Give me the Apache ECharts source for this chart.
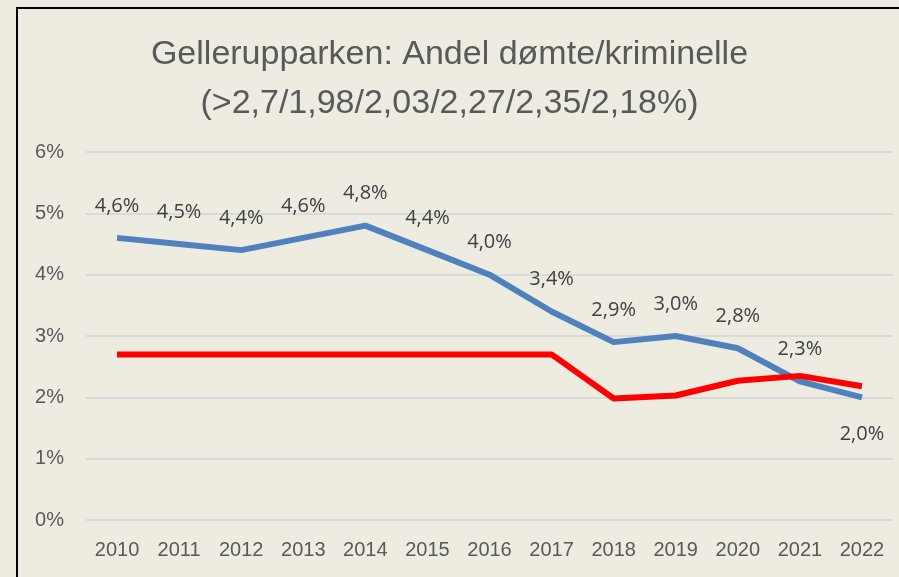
<!DOCTYPE html>
<html><head><meta charset="utf-8">
<script src="https://cdn.jsdelivr.net/npm/echarts@6/dist/echarts.min.js"></script>
<style>html,body{margin:0;padding:0;background:#EEEBE1;}#c{width:899px;height:577px;}</style>
</head><body><div id="c"></div>
<script>
const years = ['2010','2011','2012','2013','2014','2015','2016','2017','2018','2019','2020','2021','2022'];
const gellerup = [4.6,4.5,4.4,4.6,4.8,4.4,4.0,3.4,2.9,3.0,2.8,2.26,2.0];
const threshold = [2.7,2.7,2.7,2.7,2.7,2.7,2.7,2.7,1.98,2.03,2.27,2.35,2.18];
const yTicks = [0,1,2,3,4,5,6];
const titleLines = ['Gellerupparken: Andel dømte/kriminelle','(>2,7/1,98/2,03/2,27/2,35/2,18%)'];

const chart = echarts.init(document.getElementById('c'));
const fmt = v => v.toFixed(1).replace('.', ',') + '%';
chart.setOption({
  backgroundColor: '#EEEBE1',
  animation: false,
  title: {
    text: titleLines.join('\n'),
    left: 'center', top: 25,
    textStyle: {fontFamily: 'Liberation Sans Narrow, Liberation Sans', fontSize: 34, fontWeight: 'normal', color: '#595959', lineHeight: 49}
  },
  graphic: [{type: 'rect', shape: {x: 17, y: 8, width: 900, height: 600}, style: {fill: 'none', stroke: '#000', lineWidth: 2}, silent: true, z: 100}],
  grid: {left: 86, right: 6, top: 152, bottom: 57},
  xAxis: {
    type: 'category', data: years, boundaryGap: true,
    axisLine: {show: false}, axisTick: {show: false},
    axisLabel: {fontFamily: 'Liberation Sans Narrow, Liberation Sans', fontSize: 20, color: '#595959', margin: 20}
  },
  yAxis: {
    type: 'value', min: yTicks[0], max: yTicks[yTicks.length-1], interval: 1,
    axisLine: {show: false}, axisTick: {show: false},
    axisLabel: {formatter: '{value}%', fontFamily: 'Liberation Sans Narrow, Liberation Sans', fontSize: 20, color: '#595959', margin: 22},
    splitLine: {lineStyle: {color: '#D9D9D9', width: 2}}
  },
  series: [
    {
      name: 'Gellerupparken', type: 'line', data: gellerup.map((v,i)=> i===gellerup.length-1 ? {value: v, label: {position: 'bottom', distance: 27}} : v),
      symbol: 'circle', symbolSize: 0.01, showSymbol: true, lineStyle: {color: '#4F81BD', width: 6}, itemStyle: {color: '#4F81BD'},
      label: {show: true, position: 'top', distance: 22, formatter: p => fmt(p.value), fontFamily: 'Open Sans', fontSize: 20, color: '#404040'},
      labelLayout: {hideOverlap: false}
    },
    {
      name: 'Grænse', type: 'line', data: threshold,
      symbol: 'none', lineStyle: {color: '#FF0000', width: 6}, itemStyle: {color: '#FF0000'}, z: 3
    }
  ]
});
</script></body></html>
